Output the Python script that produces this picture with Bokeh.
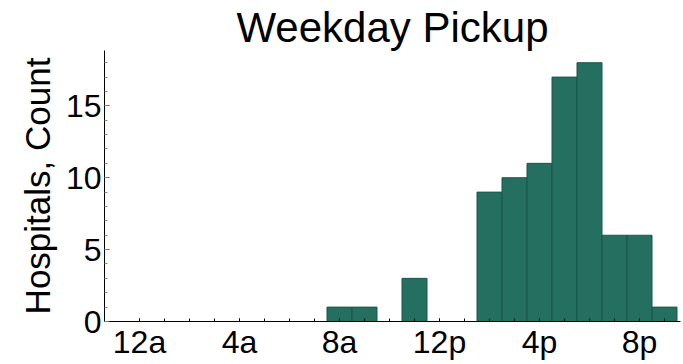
from bokeh.plotting import figure
from bokeh.models import FixedTicker, Range1d, ColumnDataSource
from bokeh.embed import file_html
from bokeh.resources import INLINE

hours = list(range(24))
counts = [0, 0, 0, 0, 0, 0, 0, 0, 1, 1, 0, 3, 0, 0, 9, 10, 11, 17, 18, 6, 6, 1, 0, 0]
tick_hours = [0, 4, 8, 12, 16, 20]
tick_labels = ["12a", "4a", "8a", "12p", "4p", "8p"]
y_ticks = [0, 5, 10, 15]

FONT = "Liberation Sans"

src = ColumnDataSource(dict(x=[h for h, c in zip(hours, counts) if c > 0],
                            top=[c for c in counts if c > 0]))

p = figure(width=683, height=364, output_backend="svg", toolbar_location=None,
           x_range=Range1d(-1.4, 21.64), y_range=Range1d(0, 18.85),
           min_border_left=104, min_border_right=3, min_border_top=50, min_border_bottom=43)
p.vbar(x="x", top="top", bottom=0, width=1.0, source=src,
       fill_color="#246f60", line_color="#1b574b", line_width=1)

p.title.text = "Weekday Pickup"
p.title.text_font = FONT
p.title.text_font_size = "42px"
p.title.text_font_style = "normal"
p.title.text_color = "black"
p.title.align = "center"
p.title.standoff = 0

p.outline_line_color = None
p.xgrid.visible = False
p.ygrid.visible = False
p.background_fill_color = "white"

xa = p.xaxis[0]
xa.ticker = FixedTicker(ticks=tick_hours, minor_ticks=list(range(0, 22)))
xa.major_label_overrides = {h: l for h, l in zip(tick_hours, tick_labels)}
xa.major_label_text_font = FONT
xa.major_label_text_font_size = "32px"
xa.major_label_text_color = "black"
xa.major_tick_in = 3
xa.major_tick_out = 0
xa.minor_tick_in = 3
xa.minor_tick_out = 0
xa.major_label_standoff = 2
xa.axis_line_color = "black"
xa.major_tick_line_color = "black"
xa.minor_tick_line_color = "black"

ya = p.yaxis[0]
ya.ticker = FixedTicker(ticks=y_ticks, minor_ticks=list(range(0, 19)))
ya.major_label_text_font = FONT
ya.major_label_text_font_size = "32px"
ya.major_label_text_color = "black"
ya.major_tick_in = 5
ya.major_tick_out = 0
ya.minor_tick_in = 3
ya.minor_tick_out = 0
ya.major_label_standoff = 3
ya.axis_line_color = "black"
ya.major_tick_line_color = "#555555"
ya.minor_tick_line_color = "#888888"
ya.axis_label = "Hospitals, Count"
ya.axis_label_text_font = FONT
ya.axis_label_text_font_size = "35px"
ya.axis_label_text_font_style = "normal"
ya.axis_label_text_color = "black"
ya.axis_label_standoff = 6

open("out.html", "w").write(file_html(p, INLINE))
